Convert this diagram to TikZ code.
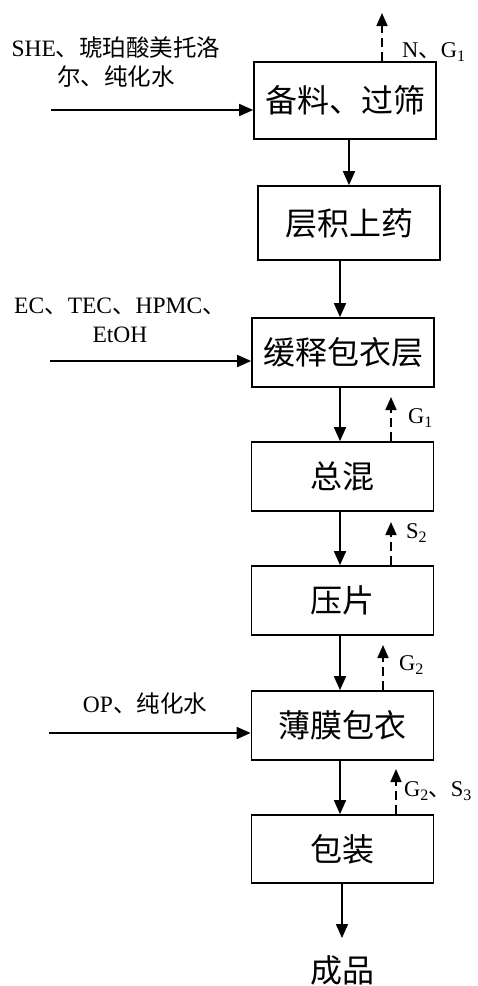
\documentclass[tikz,border=0pt]{standalone}
\usepackage{fontspec}
\setmainfont{Liberation Serif}
\newfontfamily\cjk{Noto Sans CJK SC}
\usetikzlibrary{arrows.meta}
\newcommand\subx[1]{\raisebox{-0.35ex}{\fontsize{16}{16}\selectfont #1}}
\tikzset{
  procbox/.style={draw, line width=1.7pt, minimum width=182pt, minimum height=72pt, inner sep=0pt,
    font=\fontsize{32}{34}\selectfont\cjk},
  arr/.style={line width=1.7pt, -{Triangle[length=14pt,width=12pt]}},
  darr/.style={line width=1.7pt, dash pattern=on 9pt off 5pt, -{Triangle[length=13pt,width=11pt]}},
  lbl/.style={font=\fontsize{23.5}{29}\selectfont, inner sep=0pt, align=center},
  olbl/.style={font=\fontsize{22.5}{24}\selectfont, inner sep=0pt, anchor=west},
}
\begin{document}
\begin{tikzpicture}[x=1pt,y=-1pt]
\useasboundingbox[fill=white] (0,0) rectangle (478,986);
% process boxes
\node[procbox, minimum height=77pt] (b1) at (345,100.5) {备料、过筛};
\node[procbox, minimum height=74pt] (b2) at (349,223) {层积上药};
\node[procbox, minimum height=69pt] (b3) at (343,352.5) {缓释包衣层};
\node[procbox, minimum height=69pt] (b4) at (342.5,476.5) {总混};
\node[procbox, minimum height=69pt] (b5) at (342.5,600.5) {压片};
\node[procbox, minimum height=69pt] (b6) at (342.5,725.5) {薄膜包衣};
\node[procbox, minimum height=68pt] (b7) at (342.5,849) {包装};
\node[font=\fontsize{32}{34}\selectfont\cjk, inner sep=0pt] (prod) at (342,970) {成品};
\coordinate (pend) at (342,938);
% main flow
\draw[arr] (b1.south -| b2.north) -- (b2.north);
\draw[arr] (b2.south -| 340,0) coordinate (t2) -- (t2 |- b3.north);
\draw[arr] (b3.south -| 340,0) coordinate (t3) -- (t3 |- b4.north);
\draw[arr] (b4.south -| 340,0) coordinate (t4) -- (t4 |- b5.north);
\draw[arr] (b5.south -| 340,0) coordinate (t5) -- (t5 |- b6.north);
\draw[arr] (b6.south -| 340,0) coordinate (t6) -- (t6 |- b7.north);
\draw[arr] (b7.south -| pend) -- (pend);
% inputs
\coordinate (in1) at (51,110);
\coordinate (in3) at (50,361);
\coordinate (in6) at (49,733);
\draw[arr] (in1) -- (in1 -| b1.west);
\draw[arr] (in3) -- (in3 -| b3.west);
\draw[arr] (in6) -- (in6 -| b6.west);
\node[lbl] (l1) at (116,62) {SHE{\cjk 、琥珀酸美托洛}\\{\cjk 尔、纯化水}};
\node[lbl] (l3) at (120,320) {EC{\cjk 、}TEC{\cjk 、}HPMC{\cjk 、}\\EtOH};
\node[lbl] (l6) at (145,704) {OP{\cjk 、纯化水}};
% emissions
\coordinate (o1) at (382,13);
\coordinate (o4) at (391,397);
\coordinate (o5) at (391,522);
\coordinate (o6) at (383,645);
\coordinate (o7) at (396,769);
\draw[darr] (o1 |- b1.north) -- (o1);
\draw[darr] (o4 |- b4.north) -- (o4);
\draw[darr] (o5 |- b5.north) -- (o5);
\draw[darr] (o6 |- b6.north) -- (o6);
\draw[darr] (o7 |- b7.north) -- (o7);
\node[olbl] (e1) at (402,52) {N{\cjk 、}G\subx{1}};
\node[olbl] (e4) at (408,418) {G\subx{1}};
\node[olbl] (e5) at (406,533) {S\subx{2}};
\node[olbl] (e6) at (399,665) {G\subx{2}};
\node[olbl] (e7) at (404,791) {G\subx{2}{\cjk 、}S\subx{3}};
\end{tikzpicture}
\end{document}
